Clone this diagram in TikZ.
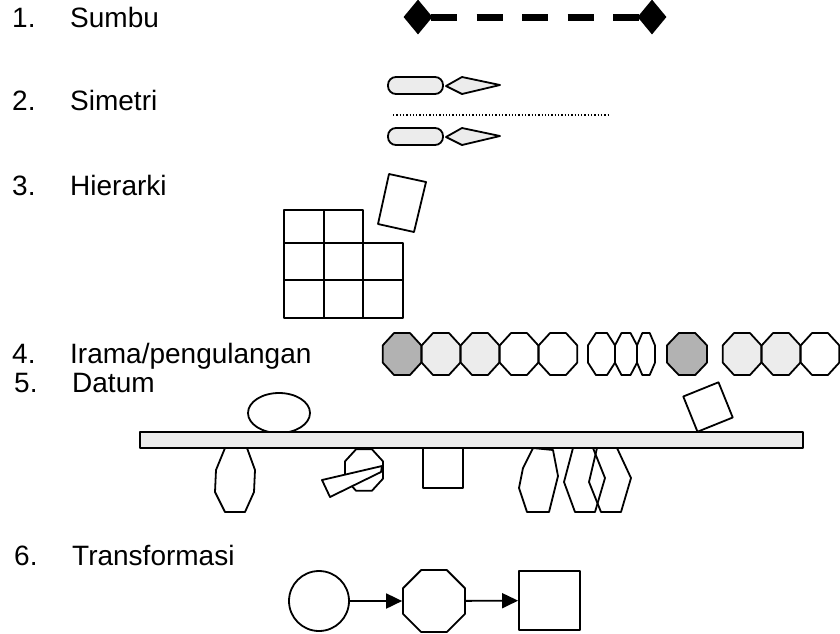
\documentclass[tikz,border=0pt]{standalone}
\usepackage{fontspec}
\setmainfont{Liberation Sans}
\usetikzlibrary{arrows.meta,shapes.geometric}
\newcommand{\octshape}[5]{\draw[#5] (#1,#2) +(22.5:#3 and #4) -- +(67.5:#3 and #4) -- +(112.5:#3 and #4) -- +(157.5:#3 and #4) -- +(202.5:#3 and #4) -- +(247.5:#3 and #4) -- +(292.5:#3 and #4) -- +(337.5:#3 and #4) -- cycle;}
\begin{document}
\begin{tikzpicture}[x=1pt,y=-1pt,
  lbl/.style={anchor=base west,inner sep=0pt,font=\fontsize{28}{32}\selectfont},
  ln/.style={draw=black,line width=1.8pt,line join=round},
  lfill/.style={fill=gray!15},
  dfill/.style={fill=gray!60},
  wfill/.style={fill=white},
  tip/.style={-{Triangle[length=16pt,width=15pt]},line width=1.8pt}
]
\useasboundingbox (0,0) rectangle (840,633);
% labels
\node[lbl] (n1) at (12,27) {1.};
\node[lbl] (t1) at (70,27) {Sumbu};
\node[lbl] (n2) at (12,110) {2.};
\node[lbl] (t2) at (70,110) {Simetri};
\node[lbl] (n3) at (12,195) {3.};
\node[lbl] (t3) at (70,195) {Hierarki};
\node[lbl] (n4) at (12,363) {4.};
\node[lbl] (t4) at (70,363) {Irama/pengulangan};
\node[lbl] (n5) at (14,392) {5.};
\node[lbl] (t5) at (72,392) {Datum};
\node[lbl] (n6) at (14,565) {6.};
\node[lbl] (t6) at (72,565) {Transformasi};

% 1. Sumbu
\node[diamond,fill=black,inner sep=0pt,minimum width=29pt,minimum height=35pt] (d1) at (418,17) {};
\node[diamond,fill=black,inner sep=0pt,minimum width=29pt,minimum height=35pt] (d2) at (652,17) {};
\path (d1.center) ++(13,0) coordinate (s1) (d2.center) ++(-13,0) coordinate (s2);
\draw[line width=7pt,dash pattern=on 26pt off 19.5pt] (s1) -- (s2);

% 2. Simetri
\draw[ln,lfill,rounded corners=8pt] (388,77) rectangle (443,94);
\draw[ln,lfill] (446,86) -- (462,77) -- (500,85) -- (462,94) -- cycle;
\draw[line width=1.3pt,dash pattern=on 1.3pt off 2pt] (393,115) -- (608,115);
\draw[ln,lfill,rounded corners=8pt] (388,128) rectangle (443,145);
\draw[ln,lfill] (446,137) -- (462,128) -- (500,136) -- (462,145) -- cycle;

% 3. Hierarki
\draw[ln] (284,210) rectangle (324,243);
\draw[ln] (324,210) rectangle (363,243);
\foreach \r/\ya/\yb in {1/243/280,2/280/318}{
  \draw[ln] (284,\ya) rectangle (324,\yb);
  \draw[ln] (324,\ya) rectangle (363,\yb);
  \draw[ln] (363,\ya) rectangle (403,\yb);
}
\draw[ln] (389,174) -- (426,182) -- (414,232) -- (378,224) -- cycle;

% 4. Irama
\octshape{402}{354}{20.8}{22.7}{ln,dfill}
\octshape{441}{354}{20.8}{22.7}{ln,lfill}
\octshape{480}{354}{20.8}{22.7}{ln,lfill}
\octshape{519}{354}{20.8}{22.7}{ln}
\octshape{558}{354}{20.8}{22.7}{ln}
\octshape{601.5}{354}{14.6}{22.7}{ln}
\octshape{626}{354}{11.9}{22.7}{ln}
\octshape{646}{354}{9.7}{22.7}{ln}
\octshape{687}{354}{21.6}{22.7}{ln,dfill}
\octshape{742}{354}{20.8}{22.7}{ln,lfill}
\octshape{781}{354}{20.8}{22.7}{ln,lfill}
\octshape{820}{354}{20.8}{22.7}{ln}

% 5. Datum
\draw[ln] (279,413) ellipse (31 and 20);
\draw[ln,rotate around={22:(708,407)}] (689,388) rectangle (727,426);
\draw[ln,lfill] (140,432) rectangle (803,448);
\draw[ln] (225,448) -- (247,448) -- (255,470) -- (254,492) -- (245,512) -- (225,512) -- (215,492) -- (216,470) -- cycle;
\octshape{364}{470}{20.6}{22.5}{ln}
\draw[ln,wfill] (322,480) -- (382,466) -- (381,472) -- (330,497) -- cycle;
\draw[ln] (423,448) rectangle (463,488);
\draw[ln] (533,448) -- (553,450) -- (558,476) -- (549,512) -- (527,512) -- (519,488) -- (523,468) -- cycle;
\draw[ln] (573,448) -- (593,448) -- (605,478) -- (595,512) -- (575,512) -- (564,482) -- cycle;
\draw[ln] (597,448) -- (617,448) -- (631,478) -- (621,512) -- (601,512) -- (589,482) -- cycle;

% 6. Transformasi
\node[circle,ln,inner sep=0pt,minimum size=60pt] (c) at (319,601) {};
\node[regular polygon,regular polygon sides=8,ln,inner sep=0pt,minimum size=67pt] (o) at (434,601) {};
\node[rectangle,ln,inner sep=0pt,minimum width=61pt,minimum height=59pt] (s) at (549.5,600.5) {};
\draw[tip] (c) -- (o);
\draw[tip] (o) -- (s);
\end{tikzpicture}
\end{document}
